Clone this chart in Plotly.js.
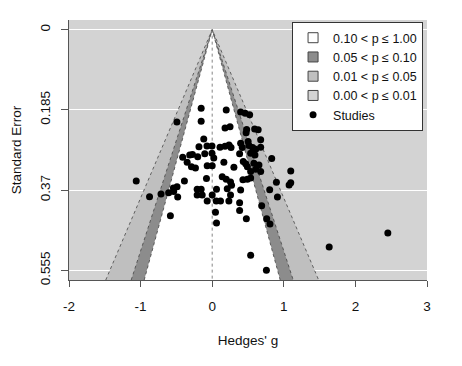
<!DOCTYPE html>
<html><head><meta charset="utf-8">
<script src="https://cdn.plot.ly/plotly-3.0.1.min.js"></script>
<style>html,body{margin:0;padding:0;background:#fff}</style>
</head><body><div id="chart" style="width:462px;height:366px"></div>
<script>
// Studies: Hedges' g and standard error
const effectSizes = [-0.154,0.196,0.397,0.460,0.523,-0.493,-0.154,0.179,0.249,0.481,0.593,0.642,0.474,-0.118,0.677,0.502,-0.185,-0.073,-0.003,0.109,0.179,0.235,0.263,0.397,0.420,0.513,0.565,0.607,0.677,-0.412,-0.314,-0.276,-0.202,-0.104,-0.003,0.022,0.383,0.537,0.597,0.831,-0.350,-0.290,-0.070,0.000,0.163,0.303,0.434,0.467,0.491,0.583,0.607,0.677,1.097,0.537,-1.061,-0.388,-0.080,0.196,0.256,0.429,0.491,0.537,0.897,1.074,1.097,-0.491,-0.210,-0.154,0.060,0.210,0.270,0.397,0.803,-0.875,-0.715,-0.608,-0.538,-0.542,-0.482,-0.210,-0.140,-0.070,0.000,0.056,0.116,0.233,0.256,0.383,0.383,0.477,0.046,0.060,-0.584,0.691,0.911,0.761,0.807,0.537,0.757,1.634,2.453,-0.234,0.140,0.653];
const standardErrors = [0.181,0.185,0.190,0.193,0.196,0.213,0.211,0.227,0.224,0.230,0.229,0.231,0.238,0.252,0.254,0.258,0.270,0.268,0.268,0.271,0.269,0.266,0.272,0.262,0.272,0.267,0.272,0.276,0.271,0.294,0.289,0.288,0.293,0.286,0.285,0.296,0.286,0.285,0.289,0.297,0.306,0.316,0.314,0.314,0.306,0.317,0.304,0.309,0.316,0.308,0.322,0.327,0.326,0.327,0.349,0.349,0.343,0.345,0.351,0.346,0.345,0.342,0.352,0.358,0.353,0.362,0.368,0.368,0.368,0.367,0.359,0.370,0.369,0.385,0.379,0.376,0.373,0.365,0.386,0.381,0.381,0.395,0.381,0.395,0.395,0.395,0.381,0.399,0.417,0.436,0.421,0.446,0.429,0.406,0.386,0.436,0.448,0.520,0.555,0.501,0.469,0.319,0.339,0.312];

// Contour regions (legend order) and critical values
const regionLabels = ["0.10 < p \u2264 1.00","0.05 < p \u2264 0.10","0.01 < p \u2264 0.05","0.00 < p \u2264 0.01"];
const regionColors = ["#FFFFFF","#8C8C8C","#BFBFBF","#D3D3D3"];
const contourZ = [1.644854, 1.959964, 2.575829]; // p = 0.10, 0.05, 0.01 (two-sided)
const refEffect = 0;
const xTicks = [-2,-1,0,1,2,3];
const yTicks = [0,0.185,0.37,0.555];
const yTickLabels = ["0","0.185","0.37","0.555"];

const yRange = [0.5772, -0.0222];
const seMax = yRange[0];

const traces = [];
// filled contour polygons, widest first
for (let i = contourZ.length - 1; i >= 0; i--) {
  const z = contourZ[i];
  traces.push({
    x: [refEffect - z*seMax, refEffect, refEffect + z*seMax],
    y: [seMax, 0, seMax],
    type: 'scatter', mode: 'lines', fill: 'toself',
    fillcolor: regionColors[i], line: {width: 0},
    showlegend: false, hoverinfo: 'skip'
  });
}
// dotted edges
for (let i = 0; i < contourZ.length; i++) {
  const z = contourZ[i];
  traces.push({
    x: [refEffect - z*seMax, refEffect, refEffect + z*seMax],
    y: [seMax, 0, seMax],
    type: 'scatter', mode: 'lines',
    line: {color: '#444', width: 0.8, dash: 'dot'},
    showlegend: false, hoverinfo: 'skip'
  });
}
// reference line
traces.push({
  x: [refEffect, refEffect], y: [0, seMax],
  type: 'scatter', mode: 'lines',
  line: {color: '#666', width: 0.8, dash: 'dot'},
  showlegend: false, hoverinfo: 'skip'
});
// legend entries for regions
regionLabels.forEach((lab, i) => {
  traces.push({
    x: [null], y: [null], type: 'scatter', mode: 'markers', name: lab,
    marker: {symbol: 'square', size: 10, color: regionColors[i], line: {color: '#444', width: 1}},
    hoverinfo: 'skip'
  });
});
// studies
traces.push({
  x: effectSizes, y: standardErrors, type: 'scatter', mode: 'markers', name: 'Studies',
  marker: {color: '#000', size: 7}
});

const layout = {
  width: 462, height: 366,
  margin: {l: 69, r: 35, t: 20, b: 86, pad: 0},
  paper_bgcolor: '#fff', plot_bgcolor: '#D3D3D3',
  font: {family: 'Liberation Sans, Arial, sans-serif', size: 13.5, color: '#111'},
  showlegend: true,
  legend: {
    x: 0.989, y: 0.992, xanchor: 'right', yanchor: 'top',
    bgcolor: '#fff', bordercolor: '#333', borderwidth: 1,
    font: {size: 12.5}, tracegroupgap: 0, itemwidth: 30
  },
  xaxis: {
    range: [-2, 3], autorange: false, tickvals: xTicks, ticktext: xTicks.map(String),
    showgrid: false, zeroline: false, showline: true, linecolor: '#555', linewidth: 1,
    ticks: 'outside', ticklen: 6, tickcolor: '#555', ticklabelstandoff: 8,
    title: {text: "Hedges' g", standoff: 22, font: {size: 13.5}}, automargin: false
  },
  yaxis: {
    range: yRange, autorange: false, tickvals: yTicks, ticktext: yTickLabels,
    tickangle: -90,
    showgrid: true, gridcolor: '#FFFFFF', gridwidth: 1,
    zeroline: false, showline: true, linecolor: '#555', linewidth: 1,
    ticks: 'outside', ticklen: 7, tickcolor: '#555', ticklabelstandoff: 6,
    title: {text: 'Standard Error', standoff: 12, font: {size: 13.5}}, automargin: false
  }
};

Plotly.newPlot('chart', traces, layout, {displayModeBar: false, staticPlot: true});
</script></body></html>
